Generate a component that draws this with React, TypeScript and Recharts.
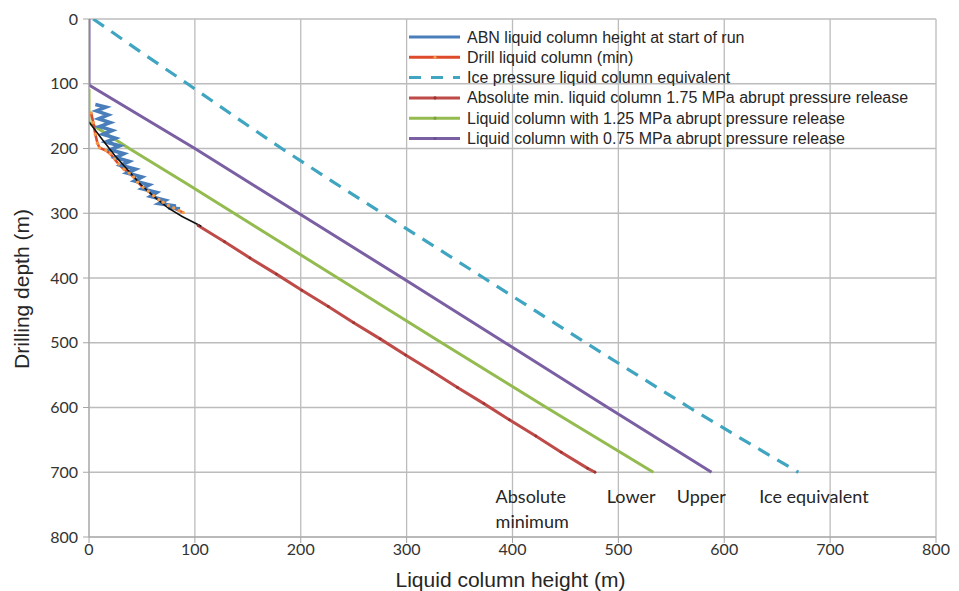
import React from 'react';
import { LineChart, Line, XAxis, YAxis, CartesianGrid, ReferenceDot } from 'recharts';

// [liquid column height (m), drilling depth (m)]
const abnStartOfRun: number[][] = [
  [6, 132], [16, 136], [7, 142], [18, 148], [9, 154], [20, 160], [10, 166], [22, 172],
  [13, 178], [25, 184], [16, 190], [29, 196], [20, 202], [33, 208], [25, 214], [38, 220],
  [30, 226], [44, 232], [36, 238], [50, 244], [43, 250], [57, 256], [50, 262], [64, 268],
  [58, 274], [72, 280], [66, 285], [82, 289], [75, 292], [86, 293],
];
const drillMin: number[][] = [
  [2, 145], [4, 160], [6, 178], [8, 192], [10, 199], [16, 203], [20, 208], [24, 216],
  [28, 224], [33, 232], [38, 238], [42, 244], [46, 252], [51, 260], [56, 266], [61, 273],
  [66, 279], [70, 283], [75, 288], [80, 292], [85, 296], [89, 299],
];
const iceEquivalent: number[][] = [
  [4, 0], [48, 50], [93, 100], [137, 150], [182, 200], [229, 250], [277, 300], [325, 350],
  [373, 400], [421, 450], [469, 500], [518, 550], [567, 600], [618, 650], [670, 700],
];
const absoluteMin: number[][] = [
  [103, 319], [128, 344], [152, 369], [177, 394], [201, 419], [226, 444], [250, 469],
  [275, 494], [299, 519], [324, 544], [348, 569], [373, 594], [397, 619], [422, 644],
  [446, 669], [471, 694], [478, 700],
];
const release125: number[][] = [
  [0, 108], [0, 160], [38, 200], [92, 254], [137, 300], [235, 400], [333, 500], [432, 600], [533, 700],
];
const release075: number[][] = [
  [0, 0], [0, 102], [100, 200], [198, 300], [296, 400], [393, 500], [490, 600], [588, 700],
];
const trendCurve: number[][] = [
  [0, 159], [12, 185], [24, 210], [36, 232], [49, 256], [62, 275], [75, 292], [88, 305], [100, 315], [106, 320],
];

const xTicks = [0, 100, 200, 300, 400, 500, 600, 700, 800];
const yTicks = [0, 100, 200, 300, 400, 500, 600, 700, 800];

const legendNames = [
  'ABN liquid column height at start of run',
  'Drill liquid column (min)',
  'Ice pressure liquid column equivalent',
  'Absolute min. liquid column 1.75 MPa abrupt pressure release',
  'Liquid column with 1.25 MPa abrupt pressure release',
  'Liquid column with 0.75 MPa abrupt pressure release',
];

const toPts = (arr: number[][]) => arr.map(([x, y]) => ({ x, y }));

const C = {
  blue: '#4a7ebb',
  drill: '#de4a2c',
  drillMarker: '#f39a4a',
  ice: '#3fa5c0',
  abs: '#be4b48',
  absMarker: '#9c3431',
  green: '#93bb4f',
  purple: '#7b5fa3',
};

const legendStyles = [
  { color: C.blue, dash: undefined, marker: undefined },
  { color: C.drill, dash: undefined, marker: C.drillMarker },
  { color: C.ice, dash: '12 10', marker: undefined },
  { color: C.abs, dash: undefined, marker: C.absMarker },
  { color: C.green, dash: undefined, marker: '#7f9f45' },
  { color: C.purple, dash: undefined, marker: '#6a4f90' },
];

const LegendBox = () => {
  const rowH = 20.3;
  return (
    <svg width={550} height={126} style={{ display: 'block', overflow: 'visible' }}>
      {legendNames.map((name, i) => {
        const cy = 10 + i * rowH;
        const s = legendStyles[i];
        return (
          <g key={name}>
            <line x1={1} x2={52} y1={cy} y2={cy} stroke={s.color} strokeWidth={3} strokeDasharray={s.dash} />
            {s.marker && <circle cx={27} cy={cy} r={1.6} fill={s.marker} />}
            <text x={59} y={cy} dominantBaseline="central" fontFamily="'Liberation Sans', Arial, sans-serif" fontSize={16} fill="#262626">
              {name}
            </text>
          </g>
        );
      })}
    </svg>
  );
};

const annoStyle = { fontFamily: "Lato, 'Open Sans', sans-serif", fontSize: 18, fill: '#262626' };
const anno = (text: string) => (props: any) => {
  const vb = props.viewBox || {};
  return (
    <text x={vb.x} y={vb.y} dominantBaseline="central" textAnchor="start" style={annoStyle}>
      {text}
    </text>
  );
};

const tickStyle = { fontFamily: "Lato, 'Open Sans', sans-serif", fontSize: 16, fill: '#333333' };

export default function App() {
  return (
    <div style={{ width: 943, height: 583, position: 'relative' }}>
      <LineChart width={943} height={583} margin={{ top: 11, right: 15, bottom: 14, left: 21 }}>
        <CartesianGrid stroke="#bcbcbc" strokeWidth={1.3} />
        <XAxis
          type="number"
          dataKey="x"
          domain={[0, 800]}
          ticks={xTicks}
          allowDataOverflow
          height={40}
          stroke="#a6a6a6"
          tickSize={6}
          tickMargin={1}
          tick={tickStyle}
          label={{
            content: (p: any) => {
              const vb = p.viewBox;
              return (
                <text x={vb.x + vb.width / 2 - 2} y={571} textAnchor="middle" dominantBaseline="central"
                  fontFamily="'Liberation Sans', Arial, sans-serif" fontSize={21} fill="#262626">
                  Liquid column height (m)
                </text>
              );
            },
          }}
        />
        <YAxis
          type="number"
          dataKey="y"
          domain={[0, 800]}
          ticks={yTicks}
          reversed
          allowDataOverflow
          width={60}
          stroke="#a6a6a6"
          tickSize={6}
          tickMargin={5}
          tick={tickStyle}
          label={{
            content: (p: any) => {
              const vb = p.viewBox;
              const cy = vb.y + vb.height / 2 + 11;
              return (
                <text x={13} y={cy} transform={`rotate(-90 13 ${cy})`} textAnchor="middle" dominantBaseline="central"
                  fontFamily="'Liberation Sans', Arial, sans-serif" fontSize={21} fill="#262626">
                  Drilling depth (m)
                </text>
              );
            },
          }}
        />
        <Line data={toPts(iceEquivalent)} dataKey="y" stroke={C.ice} strokeWidth={3.2} strokeDasharray="13 9" dot={false} isAnimationActive={false} name={legendNames[2]} />
        <Line data={toPts(release075)} dataKey="y" stroke={C.purple} strokeWidth={3} dot={false} isAnimationActive={false} name={legendNames[5]} />
        <Line data={toPts(release125)} dataKey="y" stroke={C.green} strokeWidth={3} dot={false} isAnimationActive={false} name={legendNames[4]} />
        <Line data={toPts(absoluteMin)} dataKey="y" stroke={C.abs} strokeWidth={3} dot={{ r: 1.4, fill: C.absMarker, stroke: 'none' }} isAnimationActive={false} name={legendNames[3]} />
        <Line data={toPts(drillMin)} dataKey="y" stroke={C.drill} strokeWidth={2.6} dot={{ r: 1.7, fill: C.drillMarker, stroke: 'none' }} isAnimationActive={false} name={legendNames[1]} />
        <Line data={toPts(abnStartOfRun)} dataKey="y" stroke={C.blue} strokeWidth={3.6} dot={false} isAnimationActive={false} name={legendNames[0]} />
        <Line data={toPts(trendCurve)} dataKey="y" stroke="#111" strokeWidth={1.6} dot={false} isAnimationActive={false} legendType="none" />
        <ReferenceDot x={385} y={738} r={1} fill="none" stroke="none" label={{ content: anno('Absolute') }} />
        <ReferenceDot x={385} y={777} r={1} fill="none" stroke="none" label={{ content: anno('minimum') }} />
        <ReferenceDot x={490} y={738} r={1} fill="none" stroke="none" label={{ content: anno('Lower') }} />
        <ReferenceDot x={556} y={738} r={1} fill="none" stroke="none" label={{ content: anno('Upper') }} />
        <ReferenceDot x={634} y={738} r={1} fill="none" stroke="none" label={{ content: anno('Ice equivalent') }} />
      </LineChart>
      <div style={{ position: 'absolute', left: 400, top: 19, width: 550, height: 126, pointerEvents: 'none' }}>
        <LegendBox />
      </div>
    </div>
  );
}
